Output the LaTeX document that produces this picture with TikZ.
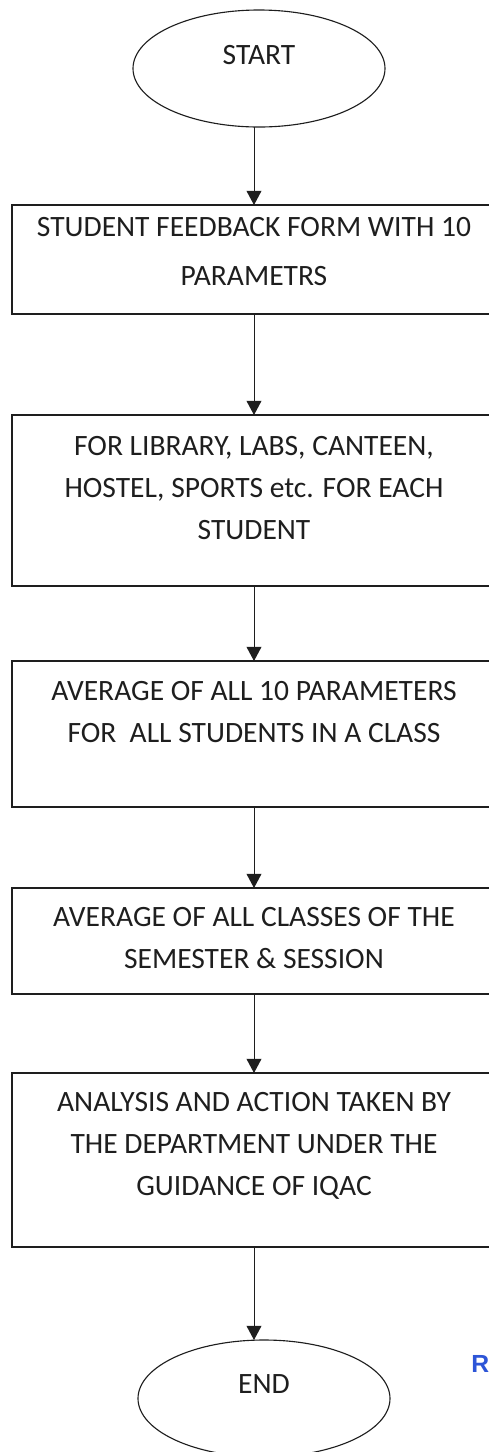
\documentclass[tikz,border=0pt]{standalone}
\usepackage{fontspec}
\setmainfont{Carlito}
\newfontfamily\markfont{Liberation Sans}
\usetikzlibrary{arrows.meta,positioning,shapes.geometric}
\definecolor{inkline}{RGB}{30,30,30}
\definecolor{rmark}{RGB}{45,85,215}

\begin{document}
\begin{tikzpicture}[>={Triangle[width=10.5pt,length=10pt]},node distance=2cm,color=inkline]
  \tikzstyle{terminal}=[draw,ellipse,line width=0.8pt,outer sep=0pt,minimum width=6.3cm,minimum height=2.925cm,text depth=20pt,font=\fontsize{21}{30}\selectfont]
  \tikzstyle{procbox}=[draw,rectangle,line width=1pt,outer sep=0pt,minimum width=12.1cm]
  \tikzstyle{boxtext}=[inner sep=0pt,align=center,font=\fontsize{21}{29.8}\selectfont]
  \tikzstyle{flow}=[line width=0.7pt,->]
  \useasboundingbox (0,0) rectangle (12.2,-36.3);
  \node[terminal] (start) at (6.475,-1.7125) {START};
  \node[procbox,minimum height=2.725cm,below=1.95cm of start,xshift=-0.125cm] (b1) {};
  \node[procbox,minimum height=4.275cm,below=2.525cm of b1] (b2) {};
  \node[procbox,minimum height=3.65cm,below=1.875cm of b2] (b3) {};
  \node[procbox,minimum height=2.65cm,below=2.025cm of b3] (b4) {};
  \node[procbox,minimum height=4.35cm,below=1.975cm of b4] (b5) {};
  \node[terminal,below=2.325cm of b5,xshift=0.25cm] (end) {END};
  \node[boxtext,font=\fontsize{21}{34.9}\selectfont,below=0.3cm of b1.north] (t1) {STUDENT FEEDBACK FORM WITH 10\\PARAMETRS};
  \node[boxtext,below=0.53cm of b2.north] (t2) {FOR LIBRARY, LABS, CANTEEN,\\HOSTEL, SPORTS etc. FOR EACH\\STUDENT};
  \node[boxtext,below=0.5cm of b3.north] (t3) {AVERAGE OF ALL 10 PARAMETERS\\FOR\ \ ALL STUDENTS IN A CLASS};
  \node[boxtext,below=0.48cm of b4.north] (t4) {AVERAGE OF ALL CLASSES OF THE\\SEMESTER \& SESSION};
  \node[boxtext,below=0.48cm of b5.north] (t5) {ANALYSIS AND ACTION TAKEN BY\\THE DEPARTMENT UNDER THE\\GUIDANCE OF IQAC};
  \node[anchor=west,inner sep=0pt,text=rmark,font=\markfont\bfseries\fontsize{17.6}{20}\selectfont] (mark) at (11.775,-34.1) {R};
  \draw[flow] (start.south -| b1.north) -- (b1.north);
  \draw[flow] (b1) -- (b2);
  \draw[flow] (b2) -- (b3);
  \draw[flow] (b3) -- (b4);
  \draw[flow] (b4) -- (b5);
  \draw[flow] (b5.south) -- (b5.south |- end.north);
\end{tikzpicture}
\end{document}
